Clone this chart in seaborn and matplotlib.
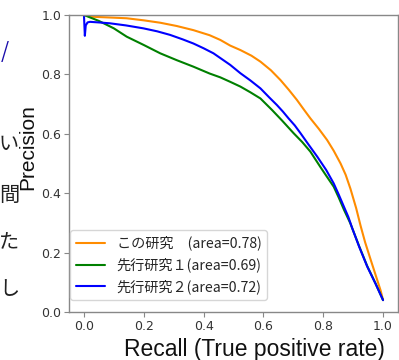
import matplotlib
matplotlib.use("Agg")
import matplotlib.pyplot as plt
import seaborn as sns
import pandas as pd

# ---- data ----
labels = ["この研究　(area=0.78)", "先行研究１(area=0.69)", "先行研究２(area=0.72)"]
colors = ["#ff8c00", "#008000", "#0000ff"]

recall_this = [0.0, 0.03, 0.10, 0.143, 0.20, 0.255, 0.31, 0.366, 0.42, 0.456, 0.489, 0.523,
               0.56, 0.59, 0.625, 0.657, 0.685, 0.712, 0.735, 0.757, 0.785, 0.813, 0.835,
               0.858, 0.875, 0.891, 0.91, 0.925, 0.94, 0.958, 0.975, 0.992, 1.0]
precision_this = [1.0, 0.994, 0.991, 0.989, 0.982, 0.974, 0.963, 0.949, 0.932, 0.916, 0.897, 0.882,
                  0.863, 0.843, 0.814, 0.781, 0.748, 0.714, 0.682, 0.652, 0.617, 0.579, 0.543,
                  0.500, 0.462, 0.415, 0.350, 0.290, 0.235, 0.178, 0.125, 0.072, 0.04]

recall_prior1 = [0.0, 0.05, 0.10, 0.143, 0.20, 0.255, 0.31, 0.366, 0.42, 0.456, 0.489, 0.523,
                 0.556, 0.59, 0.629, 0.662, 0.701, 0.73, 0.757, 0.79, 0.812, 0.835, 0.852,
                 0.869, 0.89, 0.92, 0.947, 0.975, 1.0]
precision_prior1 = [1.0, 0.98, 0.955, 0.927, 0.899, 0.871, 0.848, 0.826, 0.803, 0.79, 0.775, 0.759,
                    0.74, 0.719, 0.68, 0.645, 0.602, 0.572, 0.54, 0.489, 0.456, 0.422, 0.385,
                    0.345, 0.30, 0.222, 0.155, 0.096, 0.04]

recall_prior2 = [0.0, 0.003, 0.006, 0.012, 0.02, 0.05, 0.087, 0.14, 0.199, 0.245, 0.288, 0.33,
                 0.366, 0.40, 0.433, 0.456, 0.489, 0.523, 0.556, 0.59, 0.62, 0.645, 0.665,
                 0.684, 0.705, 0.724, 0.75, 0.78, 0.81, 0.835, 0.852, 0.869, 0.884, 0.897,
                 0.92, 0.947, 0.975, 1.0]
precision_prior2 = [1.0, 0.93, 0.965, 0.975, 0.977, 0.975, 0.972, 0.965, 0.955, 0.945, 0.933, 0.918,
                    0.904, 0.888, 0.871, 0.855, 0.832, 0.804, 0.78, 0.753, 0.722, 0.697, 0.675,
                    0.652, 0.628, 0.602, 0.565, 0.523, 0.478, 0.433, 0.395, 0.355, 0.32, 0.282,
                    0.22, 0.153, 0.095, 0.04]

xticks = [0.0, 0.2, 0.4, 0.6, 0.8, 1.0]
yticks = [0.0, 0.2, 0.4, 0.6, 0.8, 1.0]
side_chars = ["い", "間", "た", "し"]

# ---- build long table ----
frames = []
for lab, r, p in zip(labels, [recall_this, recall_prior1, recall_prior2],
                     [precision_this, precision_prior1, precision_prior2]):
    frames.append(pd.DataFrame({"recall": r, "precision": p, "model": lab}))
df = pd.concat(frames, ignore_index=True)

sns.set_theme(style="ticks")
plt.rcParams["font.family"] = ["Noto Sans CJK JP", "DejaVu Sans"]

fig = plt.figure(figsize=(3.99, 3.6), dpi=100)
ax = fig.add_axes([69 / 399, 48 / 360, 329 / 399, 297 / 360])

sns.lineplot(data=df, x="recall", y="precision", hue="model", hue_order=labels,
             palette=dict(zip(labels, colors)), sort=False, estimator=None,
             units="model", linewidth=1.5, ax=ax)

ax.set_xlim(-0.05, 1.05)
ax.set_ylim(0.0, 1.0)
ax.set_xticks(xticks)
ax.set_yticks(yticks)
ax.set_xticklabels([f"{v:.1f}" for v in xticks], family="DejaVu Sans", fontsize=9, color="#333333")
ax.set_yticklabels([f"{v:.1f}" for v in yticks], family="DejaVu Sans", fontsize=9, color="#333333")
ax.tick_params(length=3.5, width=0.8, color="#888888", pad=2)
for s in ax.spines.values():
    s.set_visible(True)
    s.set_color("#888888")
    s.set_linewidth(1.0)

ax.set_xlabel("Recall (True positive rate)", family="Liberation Sans", fontsize=16.5, color="#111111")
ax.set_ylabel("Precision", family="Liberation Sans", fontsize=15, color="#111111")
ax.xaxis.set_label_coords(0.565, -0.086)
ax.yaxis.set_label_coords(-0.097, 0.557)

leg = ax.legend(loc="lower left", bbox_to_anchor=(0.003, 0.04), borderaxespad=0,
                fontsize=10.2, handlelength=2.1, frameon=True, title=None)
leg.get_frame().set_edgecolor("#cccccc")

# fragments of surrounding document text visible in the screenshot
ys = [145, 195, 242, 289]
for ch, y in zip(side_chars, ys):
    fig.text(19 / 399, 1 - y / 360, ch, ha="right", va="center", fontsize=14.5,
             color="#222222", family="Noto Sans CJK JP", zorder=-1)
fig.text(9 / 399, 1 - 52 / 360, "/", ha="right", va="center", fontsize=15,
         color="#1a0dab", family="Noto Sans CJK JP")

fig.savefig("out.png", dpi=100)
